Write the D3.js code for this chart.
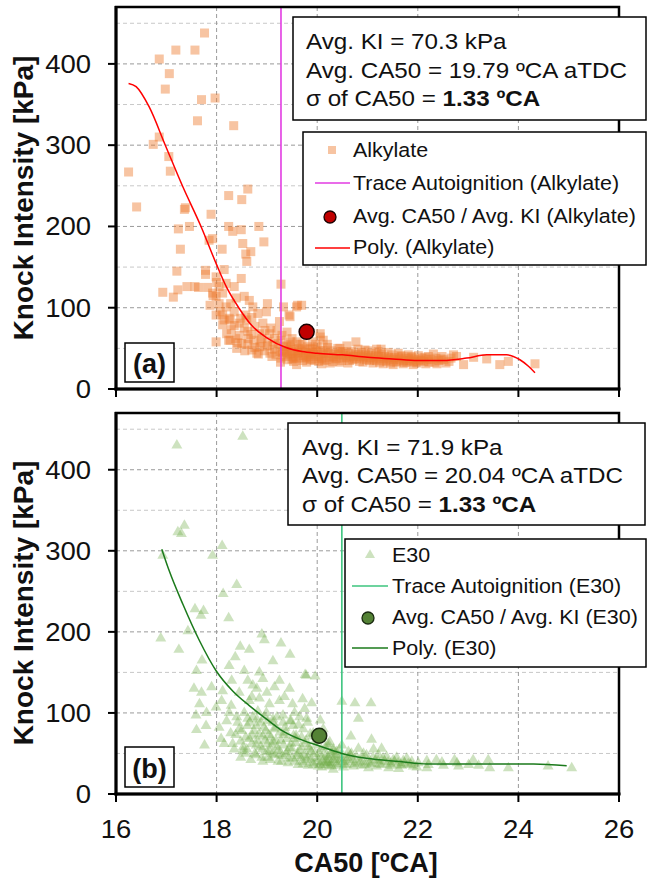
<!DOCTYPE html>
<html><head><meta charset="utf-8">
<script src="https://cdn.jsdelivr.net/npm/d3@7"></script>
<style>body{margin:0;background:#fff}svg{display:block;font-family:"Liberation Sans",Arial,sans-serif}</style>
</head><body><svg id="c" width="647" height="883"></svg>
<script>
// ---------------- DATA ----------------
const xTicks = [16, 18, 20, 22, 24, 26];
const yTicks = [0, 100, 200, 300, 400];
const yMinor = [50, 150, 250, 350, 450];
const xGrid = [18, 20, 22, 24];
const xDomain = [16, 26];
const yDomain = [0, 470];

const alkylatePoints = [
[17.76,438],[17.19,417],[17.57,417],[16.86,406],[17.06,388],[16.98,369],[17.70,356],[17.97,358],[17.62,330],[18.34,324],
[16.86,310],[16.74,301],[17.05,286],[17.08,268],[16.25,267],[16.41,224],[17.36,221],[17.38,223],[17.89,215],[18.24,238],
[18.62,246],[18.50,233],[17.24,197],[17.46,200],[18.24,200],[18.32,194],[18.49,196],[18.84,200],[17.92,185],[17.85,183],
[18.94,181],[18.52,179],[17.28,172],[18.11,172],[18.68,169],[18.58,166],[18.60,157],[17.21,145],[17.78,146],[17.78,141],
[18.15,147],[18.49,136],[16.93,119],[17.14,113],[17.23,122],[17.41,126],[17.57,126],[17.64,125],[17.82,125],[17.99,138],
[17.92,118],[18.00,131],[18.05,126],[17.99,114],[18.19,130],[18.12,118],[18.35,126],[19.28,129],[18.05,105],[18.19,101],
[18.28,105],[18.39,112],[18.55,114],[18.65,109],[18.72,101],[19.01,105],[17.99,91],[18.12,91],[18.25,87],[18.35,95],
[18.48,87],[18.58,91],[18.82,93],[18.99,95],[19.61,103],[19.44,91],[19.25,83],[18.12,79],[18.29,73],[18.45,81],
[18.62,71],[18.76,77],[18.92,81],[19.08,75],[17.99,58],[18.24,60],[18.38,62],[18.50,56],[18.63,62],[18.76,51],
[18.88,57],[19.01,53],[19.15,49],[19.28,60],[19.35,47],[19.48,51],[19.62,45],[19.75,49],[19.88,43],[18.56,47],
[18.83,43],[19.10,40],[19.54,38],[19.86,36],[17.87,103],[18.27,85],[18.27,60],[18.07,95],[17.93,115],[19.33,101],
[19.59,101],[19.46,89],[20.06,64],[20.12,60],[20.77,58],[21.18,49],[21.27,49],[20.95,48],[20.45,50],[22.31,43],
[22.71,42],[22.77,40],[22.91,30],[23.11,39],[23.37,37],[23.63,30],[23.80,34],[24.33,31],[19.69,103],[20.06,68],
[19.05,68],[19.20,72],[19.15,62],[19.30,66],[19.40,70],[19.50,62],[19.60,58],[19.70,55],[19.90,58],[20.00,52],[20.20,55],
[19.31,45],[19.28,38],[19.33,52],[19.27,33],[19.42,42],[19.38,48],[19.41,36],[19.44,55],[19.52,40],[19.49,46],
[19.53,34],[19.47,58],[19.61,44],[19.58,38],[19.63,50],[19.59,30],[19.72,41],[19.68,47],[19.71,35],[19.82,43],
[19.78,39],[19.81,52],[19.79,33],[19.92,45],[19.88,37],[19.91,49],[20.02,40],[19.98,46],[20.03,34],[19.97,55],
[20.12,42],[20.08,38],[20.11,48],[20.09,31],[20.22,44],[20.18,36],[20.21,51],[20.32,40],[20.28,47],[20.31,34],
[20.42,43],[20.38,38],[20.41,50],[20.52,41],[20.48,35],[20.51,46],[20.62,44],[20.58,39],[20.61,32],[20.59,53],
[20.72,40],[20.68,46],[20.71,36],[20.82,42],[20.78,37],[20.81,49],[20.92,39],[20.88,45],[20.91,33],[21.02,41],
[20.98,36],[21.01,47],[21.12,38],[21.08,44],[21.11,32],[21.22,40],[21.18,35],[21.21,46],[21.32,37],[21.28,43],
[21.31,31],[21.42,39],[21.38,34],[21.41,45],[21.52,36],[21.48,42],[21.51,30],[21.62,38],[21.58,33],[21.61,44],
[21.72,35],[21.68,40],[21.71,31],[21.82,37],[21.78,33],[21.81,42],[21.92,34],[21.88,39],[21.91,30],[22.02,36],
[21.98,32],[22.01,41],[22.12,34],[22.08,38],[22.22,33],[22.18,37],[22.21,40],[22.42,35],[22.38,31],[22.52,36],
[22.48,40],[22.62,34],
[18.62,55],[18.70,48],[18.74,60],[18.80,44],[18.86,52],[18.90,62],[18.95,47],[19.02,58],[19.06,44],[19.12,54],
[19.18,42],[19.22,56],[19.26,46],[19.36,40],[19.40,53],[19.45,44],[19.50,37],[19.55,48],[19.64,41],[19.66,55],
[19.74,38],[19.77,45],[19.84,40],[19.86,50],[19.94,35],[19.96,42],[20.04,37],[20.06,47],[20.14,35],[20.16,44],
[20.24,39],[20.26,32],[20.34,43],[20.36,37],[20.44,33],[20.46,46],[20.54,38],[20.56,43],[20.64,35],[20.66,41],
[20.74,38],[20.76,43],[20.84,34],[20.86,40],[20.94,37],[20.96,42],[21.04,35],[21.06,39],[21.14,36],[21.16,41],
[21.24,33],[21.26,38],[21.34,40],[21.36,35],[21.44,37],[21.46,32],[21.54,39],[21.56,34],[21.64,36],[21.66,41],
[21.74,33],[21.76,38],[21.84,35],[21.86,40],[21.94,37],[21.96,33],[22.06,35],[22.14,39],[22.16,31],[22.26,36],
[22.34,33],[22.36,38],[22.46,37],[22.56,32],[22.66,38],[18.40,50],[18.45,66],[18.55,75],[18.68,67],[18.85,68],
[18.96,72],[18.35,78],[18.20,68],[18.42,57],[18.15,85],[18.60,85],[18.70,88]
];
const alkylatePoly = [[16.25,376],[16.40,372],[16.66,347],[16.98,300],[17.32,250],[17.69,200],[18.00,153],[18.20,125],
[18.44,100],[18.70,78],[19.00,63],[19.38,51],[19.70,46],[20.00,44],[20.50,42],[21.00,39],[21.50,37],[22.00,35],
[22.50,35],[22.97,38],[23.37,42],[23.77,42],[24.03,36],[24.20,28],[24.33,20]];

const e30Points = [
[18.52,441],[17.21,430],[17.36,331],[17.23,323],[17.30,321],[18.11,306],[17.92,294],[16.93,294],[18.40,258],[18.13,247],
[17.57,228],[17.74,226],[17.69,220],[18.24,217],[17.43,201],[16.89,192],[18.90,197],[18.95,190],[19.28,186],[18.47,182],
[18.65,178],[17.25,178],[18.37,169],[19.12,164],[19.46,172],[17.71,165],[18.25,158],[17.60,152],[18.55,152],[18.85,150],
[19.78,146],[17.90,132],[17.70,125],[18.12,127],[18.72,134],[18.92,142],[19.25,140],[19.45,130],[17.66,111],[17.99,107],
[18.29,109],[18.65,115],[18.85,118],[19.05,111],[19.25,115],[19.51,111],[19.71,117],[17.59,97],[17.79,84],[18.05,82],
[18.42,88],[18.62,93],[18.79,84],[18.95,95],[19.12,88],[19.32,97],[19.48,90],[19.65,95],[19.81,88],[17.76,60],
[18.09,68],[18.32,62],[18.38,73],[18.52,53],[18.65,68],[18.79,60],[18.92,71],[19.05,53],[19.12,64],[19.25,49],
[19.32,73],[19.45,57],[19.58,68],[19.68,45],[19.85,55],[19.91,71],[17.60,79],[17.55,130],[17.80,100],
[18.50,78],[18.48,45],[18.53,58],[18.61,84],[18.58,50],[18.71,72],[18.68,42],[18.72,95],[18.81,66],[18.78,48],
[18.82,102],[18.91,55],[18.88,88],[18.92,40],[19.01,62],[18.98,78],[19.02,45],[18.99,100],[19.11,50],[19.08,70],
[19.12,92],[19.21,58],[19.18,82],[19.22,40],[19.31,47],[19.28,66],[19.32,88],[19.41,52],[19.38,76],[19.42,38],
[19.51,44],[19.48,62],[19.52,84],[19.61,50],[19.58,72],[19.62,36],[19.71,40],[19.68,58],[19.72,80],[19.81,46],
[19.78,66],[19.82,35],[19.91,38],[19.88,52],[19.92,75],[20.01,44],[19.98,60],[20.02,34],[20.11,40],[20.08,55],
[20.12,80],[20.09,33],[20.21,38],[20.18,48],[20.22,62],[20.31,42],[20.28,35],[20.32,55],
[19.76,147],[19.96,145],[19.89,112],[19.79,93],[20.06,91],[20.49,114],[20.75,112],[21.07,112],[20.82,93],[20.67,71],
[21.08,67],[21.28,56],[20.33,53],[20.25,64],[22.18,32],[22.37,42],[22.73,42],[23.10,42],[23.40,42],[23.43,32],
[23.80,32],[24.59,34],[25.06,32],
[20.21,46],[20.18,36],[20.22,58],[20.19,40],[20.31,48],[20.28,38],[20.32,30],[20.41,44],[20.38,52],[20.42,35],
[20.51,40],[20.48,48],[20.52,33],[20.49,60],[20.61,45],[20.58,36],[20.62,52],[20.71,42],[20.68,50],[20.72,34],
[20.81,38],[20.78,46],[20.82,56],[20.91,44],[20.88,35],[20.92,50],[21.01,40],[20.98,48],[21.02,32],[21.11,45],
[21.08,37],[21.12,55],[21.21,41],[21.18,34],[21.22,48],[21.31,44],[21.28,36],[21.41,39],[21.38,46],[21.42,32],
[21.51,42],[21.48,35],[21.61,38],[21.58,45],[21.62,31],[21.71,41],[21.68,35],[21.81,37],[21.78,44],[21.91,34],
[21.88,40],[22.01,38],[21.98,33],[22.21,36],[22.18,41],[22.51,35],[22.48,39],[22.81,34],[22.78,38],[23.01,36],[23.21,35],
[18.40,95],[18.45,80],[18.48,65],[18.55,100],[18.58,70],[18.60,55],[18.66,88],[18.70,62],[18.74,78],[18.76,50],
[18.80,92],[18.84,74],[18.87,58],[18.90,45],[18.94,82],[18.96,66],[19.00,52],[19.02,90],[19.04,73],[19.07,42],
[19.10,60],[19.14,80],[19.16,48],[19.18,66],[19.20,95],[19.23,54],[19.26,76],[19.29,40],[19.33,60],[19.36,82],
[19.38,50],[19.40,68],[19.43,44],[19.46,90],[19.50,55],[19.53,72],[19.55,40],[19.57,63],[19.60,47],[19.63,85],
[19.66,53],[19.69,70],[19.72,37],[19.74,48],[19.76,62],[19.80,42],[19.83,58],[19.86,74],[19.88,44],[19.92,36],
[19.95,50],[19.97,66],[20.00,40],[20.04,50],[20.06,36],[20.10,46],[20.14,38],[20.16,58],[20.20,42],[20.24,34],
[20.27,50],[20.34,40],[20.36,46],[20.40,37],[20.44,55],[20.46,42],[20.54,37],[20.56,44],[20.64,40],[20.66,48],
[20.74,37],[20.86,40],[20.94,36],[21.04,38],[21.16,42],[21.24,37],[21.34,40],[21.46,37],[21.54,40],[21.66,36],
[21.74,38],[21.86,36],[18.20,90],[18.28,75],[18.35,55],[18.15,62],[18.25,100],[18.10,115],[18.30,140],[18.45,125],
[18.62,140],[18.70,120],[18.80,130],[19.00,125],[19.15,132],[19.35,120],[19.55,100],[19.75,105]
];
const e30Poly = [[16.91,302],[17.06,275],[17.33,234],[17.66,189],[17.99,152],[18.32,127],[18.65,109],[18.98,93],
[19.31,78],[19.64,68],[20.06,59],[20.49,50],[20.98,44],[21.65,40],[22.18,37],[22.97,37],[24.30,37],[24.96,35]];

const traceAutoignition = [19.28, 20.49];
const avgPoints = [[19.79, 70.3], [20.04, 71.9]];
const infoLines = [
  ["Avg. KI = 70.3 kPa", "Avg. CA50 = 19.79 ºCA aTDC", "σ of CA50 = ", "1.33 ºCA"],
  ["Avg. KI = 71.9 kPa", "Avg. CA50 = 20.04 ºCA aTDC", "σ of CA50 = ", "1.33 ºCA"]
];
const legendLabels = [
  ["Alkylate", "Trace Autoignition (Alkylate)", "Avg. CA50 / Avg. KI (Alkylate)", "Poly. (Alkylate)"],
  ["E30", "Trace Autoignition (E30)", "Avg. CA50 / Avg. KI (E30)", "Poly. (E30)"]
];
const panelLabels = ["(a)", "(b)"];
const yTitle = "Knock Intensity [kPa]";
const xTitle = "CA50 [ºCA]";

// ---------------- LAYOUT / STYLE ----------------
const svg = d3.select("#c");
const X0 = 116, X1 = 619;
const x = d3.scaleLinear().domain(xDomain).range([X0, X1]);
const SQ = 9, TRI = 52;

const panels = [
  { top: 7, bottom: 389, points: alkylatePoints, poly: alkylatePoly, marker: "square",
    mFill: "#ED7D31", mOp: 0.45, traceColor: "#E23BE2", polyColor: "#FF0000",
    avgFill: "#C00000", avgStroke: "#1a0000",
    info: { x0: 293, y0: 17, x1: 646, y1: 120, tx: 306, base: [49, 78, 106] },
    leg: { x0: 303, y0: 132, x1: 646, y1: 265, s0: 315, s1: 350, sc: 332, tx: 353,
           rows: [150, 183, 217, 248], base: [157, 190, 223, 254] },
    lab: { x0: 125, y0: 343, x1: 174, y1: 382, base: 373 },
    titleY: 198 },
  { top: 413, bottom: 794, points: e30Points, poly: e30Poly, marker: "triangle",
    mFill: "#70AD47", mOp: 0.35, traceColor: "#3CC47E", polyColor: "#1B7A1B",
    avgFill: "#548235", avgStroke: "#1a2a10",
    info: { x0: 288, y0: 423, x1: 645, y1: 525, tx: 302, base: [455, 483, 512] },
    leg: { x0: 345, y0: 539, x1: 646, y1: 667, s0: 352, s1: 388, sc: 370, tx: 392,
           rows: [555, 586, 618, 648], base: [562, 593, 624, 655] },
    lab: { x0: 125, y0: 747, x1: 174, y1: 787, base: 778 },
    titleY: 603 }
];

const SX = 1.1; // horizontal text stretch seen in reference
function stretchedText(g, tx, ty, str, size, anchor, weight) {
  return g.append("text")
    .attr("transform", `translate(${tx},${ty}) scale(${SX},1)`)
    .attr("text-anchor", anchor || "start")
    .attr("font-size", size).attr("font-weight", weight || "normal")
    .attr("fill", "#111").text(str);
}

panels.forEach((P, i) => {
  const y = d3.scaleLinear().domain(yDomain).range([P.bottom, P.top]);
  const g = svg.append("g");
  const clipId = "clip" + i;
  svg.append("clipPath").attr("id", clipId).append("rect")
    .attr("x", X0).attr("y", P.top).attr("width", X1 - X0).attr("height", P.bottom - P.top);

  // grid
  g.selectAll(".gm").data(yMinor).join("line")
    .attr("x1", X0).attr("x2", X1).attr("y1", d => y(d)).attr("y2", d => y(d))
    .attr("stroke", "#c8c8c8").attr("stroke-width", 1).attr("stroke-dasharray", "4,3");
  g.selectAll(".gM").data(yTicks.slice(1)).join("line")
    .attr("x1", X0).attr("x2", X1).attr("y1", d => y(d)).attr("y2", d => y(d))
    .attr("stroke", "#9a9a9a").attr("stroke-width", 1).attr("stroke-dasharray", "4,3");
  g.selectAll(".gx").data(xGrid).join("line")
    .attr("x1", d => x(d)).attr("x2", d => x(d)).attr("y1", P.top).attr("y2", P.bottom)
    .attr("stroke", "#9a9a9a").attr("stroke-width", 1).attr("stroke-dasharray", "4,3");

  const data = g.append("g").attr("clip-path", `url(#${clipId})`);
  // scatter
  if (P.marker === "square") {
    data.selectAll("rect.pt").data(P.points).join("rect")
      .attr("x", d => x(d[0]) - SQ / 2).attr("y", d => y(d[1]) - SQ / 2)
      .attr("width", SQ).attr("height", SQ)
      .attr("fill", P.mFill).attr("fill-opacity", P.mOp);
  } else {
    const tri = d3.symbol(d3.symbolTriangle, TRI);
    data.selectAll("path.pt").data(P.points).join("path")
      .attr("d", tri).attr("transform", d => `translate(${x(d[0])},${y(d[1])})`)
      .attr("fill", P.mFill).attr("fill-opacity", P.mOp);
  }
  // trace autoignition
  data.append("line").attr("x1", x(traceAutoignition[i])).attr("x2", x(traceAutoignition[i]))
    .attr("y1", P.top).attr("y2", P.bottom).attr("stroke", P.traceColor).attr("stroke-width", 1.6);
  // poly fit
  data.append("path").datum(P.poly)
    .attr("d", d3.line().x(d => x(d[0])).y(d => y(d[1])).curve(d3.curveMonotoneX))
    .attr("fill", "none").attr("stroke", P.polyColor).attr("stroke-width", 1.5);
  // average point
  data.append("circle").attr("cx", x(avgPoints[i][0])).attr("cy", y(avgPoints[i][1])).attr("r", 7.5)
    .attr("fill", P.avgFill).attr("stroke", P.avgStroke).attr("stroke-width", 1.5);

  // frame
  g.append("rect").attr("x", X0).attr("y", P.top).attr("width", X1 - X0).attr("height", P.bottom - P.top)
    .attr("fill", "none").attr("stroke", "#000").attr("stroke-width", 2.5);
  g.append("line").attr("x1", X0).attr("x2", X0).attr("y1", P.top - 1).attr("y2", P.bottom + 1.5)
    .attr("stroke", "#000").attr("stroke-width", 3);
  g.append("line").attr("x1", X0 - 1.5).attr("x2", X1 + 1.5).attr("y1", P.bottom).attr("y2", P.bottom)
    .attr("stroke", "#000").attr("stroke-width", 3);
  // ticks
  g.selectAll(".yt").data(yTicks).join("line")
    .attr("x1", X0 - 8).attr("x2", X0).attr("y1", d => y(d)).attr("y2", d => y(d))
    .attr("stroke", "#000").attr("stroke-width", 2);
  g.selectAll(".xt").data(xTicks).join("line")
    .attr("x1", d => x(d)).attr("x2", d => x(d)).attr("y1", P.bottom).attr("y2", P.bottom + 8)
    .attr("stroke", "#000").attr("stroke-width", 2);
  // y tick labels
  yTicks.forEach(v => stretchedText(g, 91, y(v) + 9, String(v), 25, "end"));
  // y title
  g.append("text").attr("transform", `translate(33,${P.titleY}) rotate(-90)`)
    .attr("text-anchor", "middle").attr("font-size", 28).attr("font-weight", "bold")
    .attr("fill", "#111").text(yTitle);

  // info box
  const I = P.info;
  g.append("rect").attr("x", I.x0).attr("y", I.y0).attr("width", I.x1 - I.x0).attr("height", I.y1 - I.y0)
    .attr("fill", "#fff").attr("stroke", "#000").attr("stroke-width", 1.5);
  stretchedText(g, I.tx, I.base[0], infoLines[i][0], 22);
  stretchedText(g, I.tx, I.base[1], infoLines[i][1], 22);
  const t3 = stretchedText(g, I.tx, I.base[2], infoLines[i][2], 22);
  t3.append("tspan").attr("font-weight", "bold").text(infoLines[i][3]);

  // legend
  const L = P.leg;
  g.append("rect").attr("x", L.x0).attr("y", L.y0).attr("width", L.x1 - L.x0).attr("height", L.y1 - L.y0)
    .attr("fill", "#fff").attr("stroke", "#000").attr("stroke-width", 1.5);
  if (P.marker === "square") {
    g.append("rect").attr("x", L.sc - 4).attr("y", L.rows[0] - 4).attr("width", 8).attr("height", 8)
      .attr("fill", P.mFill).attr("fill-opacity", P.mOp);
  } else {
    g.append("path").attr("d", d3.symbol(d3.symbolTriangle, 44))
      .attr("transform", `translate(${L.sc},${L.rows[0]})`)
      .attr("fill", P.mFill).attr("fill-opacity", P.mOp);
  }
  g.append("line").attr("x1", L.s0).attr("x2", L.s1).attr("y1", L.rows[1]).attr("y2", L.rows[1])
    .attr("stroke", P.traceColor).attr("stroke-width", 1.6);
  g.append("circle").attr("cx", L.sc - 2).attr("cy", L.rows[2]).attr("r", 6)
    .attr("fill", P.avgFill).attr("stroke", P.avgStroke).attr("stroke-width", 1.3);
  g.append("line").attr("x1", L.s0).attr("x2", L.s1).attr("y1", L.rows[3]).attr("y2", L.rows[3])
    .attr("stroke", P.polyColor).attr("stroke-width", 1.5);
  legendLabels[i].forEach((s, k) => stretchedText(g, L.tx, L.base[k], s, 19.5));

  // panel label
  const B = P.lab;
  g.append("rect").attr("x", B.x0).attr("y", B.y0).attr("width", B.x1 - B.x0).attr("height", B.y1 - B.y0)
    .attr("fill", "#fff").attr("stroke", "#000").attr("stroke-width", 1.5);
  g.append("text").attr("x", (B.x0 + B.x1) / 2).attr("y", B.base).attr("text-anchor", "middle")
    .attr("font-size", 27).attr("font-weight", "bold").attr("fill", "#111").text(panelLabels[i]);
});

// x tick labels (bottom panel only)
const gx = svg.append("g");
xTicks.forEach(v => stretchedText(gx, x(v), 838, String(v), 25, "middle"));
gx.append("text").attr("x", 366).attr("y", 872).attr("text-anchor", "middle")
  .attr("font-size", 27).attr("font-weight", "bold").attr("fill", "#111").text(xTitle);
</script>
</body></html>
